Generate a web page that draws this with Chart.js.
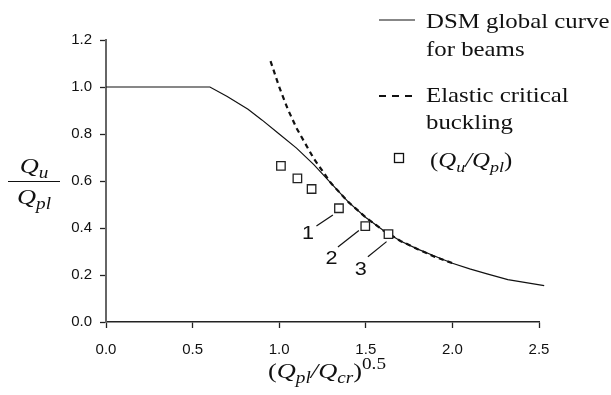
<!DOCTYPE html>
<html>
<head>
<meta charset="utf-8">
<script src="https://cdn.jsdelivr.net/npm/chart.js@4.4.1/dist/chart.umd.min.js"></script>
<style>
  body { margin: 0; background: #fff; }
  canvas { display: block; }
</style>
</head>
<body>
<canvas id="myChart" width="611" height="395"></canvas>
<script>
"use strict";

// DSM global curve for beams
const dsmX = [0, 0.60, 0.70, 0.82, 0.90, 1.00, 1.10, 1.20, 1.30, 1.40, 1.50, 1.60, 1.70, 1.80, 1.90, 2.00, 2.10, 2.20, 2.32, 2.53];
const dsmY = [1.00, 1.00, 0.96, 0.905, 0.86, 0.80, 0.74, 0.67, 0.59, 0.51, 0.445, 0.39, 0.345, 0.31, 0.28, 0.25, 0.226, 0.205, 0.18, 0.155];

// Elastic critical buckling
const elasticX = [0.95, 1.00, 1.05, 1.10, 1.20, 1.30, 1.40, 1.50, 1.60, 1.70, 1.80, 1.90, 2.02];
const elasticY = [1.11, 1.00, 0.905, 0.825, 0.695, 0.59, 0.51, 0.445, 0.39, 0.345, 0.31, 0.277, 0.245];

// test results Qu/Qpl
const testX = [1.01, 1.105, 1.187, 1.345, 1.497, 1.631];
const testY = [0.664, 0.611, 0.566, 0.484, 0.408, 0.374];

// numbered callouts: label position and leader line (data units)
const calloutText = ["1", "2", "3"];
const calloutAt = [[1.166, 0.383], [1.302, 0.278], [1.471, 0.230]];
const leaderFrom = [[1.215, 0.409], [1.339, 0.319], [1.512, 0.278]];
const leaderTo = [[1.31, 0.455], [1.46, 0.389], [1.62, 0.342]];

const xTicks = [0, 0.5, 1.0, 1.5, 2.0, 2.5];
const yTicks = [0, 0.2, 0.4, 0.6, 0.8, 1.0, 1.2];

const SERIF = "'Liberation Serif', 'Times New Roman', serif";
const SANS = "'Liberation Sans', Arial, sans-serif";
const SX = 1.2; // the figure is stretched sideways

function pts(xs, ys) {
    return xs.map((x, i) => ({ x: x, y: ys[i] }));
}

function runFont(kind, size) {
    if (kind === "i") return "italic " + size + "px " + SERIF;
    if (kind === "sub") return "italic " + Math.round(size * 0.72) + "px " + SERIF;
    if (kind === "sup") return Math.round(size * 0.72) + "px " + SERIF;
    return size + "px " + SERIF;
}

function runsWidth(ctx, runs, size) {
    let w = 0;
    runs.forEach(r => {
        ctx.font = runFont(r[1], size);
        w += ctx.measureText(r[0]).width * SX;
    });
    return w;
}

// draws a run of mixed italic / sub / sup text, left-aligned at x
function drawRuns(ctx, x, y, runs, size) {
    let cx = x;
    runs.forEach(r => {
        ctx.font = runFont(r[1], size);
        let dy = 0;
        if (r[1] === "sub") dy = size * 0.24;
        if (r[1] === "sup") dy = -size * 0.42;
        ctx.save();
        ctx.translate(cx, y + dy);
        ctx.scale(SX, 1);
        ctx.fillText(r[0], 0, 0);
        ctx.restore();
        cx += ctx.measureText(r[0]).width * SX;
    });
    return cx;
}

function stretchedText(ctx, txt, x, y, font, align) {
    ctx.font = font;
    ctx.save();
    ctx.translate(x, y);
    ctx.scale(SX, 1);
    ctx.textAlign = align || "left";
    ctx.fillText(txt, 0, 0);
    ctx.restore();
}

const decorations = {
    id: "decorations",
    afterDraw(chart) {
        const ctx = chart.ctx;
        const xs = chart.scales.x, ys = chart.scales.y;
        ctx.save();
        ctx.fillStyle = "#111";
        ctx.strokeStyle = "#111";
        ctx.textBaseline = "alphabetic";

        // callouts 1 2 3
        ctx.lineWidth = 1.2;
        calloutText.forEach((t, i) => {
            ctx.beginPath();
            ctx.moveTo(xs.getPixelForValue(leaderFrom[i][0]), ys.getPixelForValue(leaderFrom[i][1]));
            ctx.lineTo(xs.getPixelForValue(leaderTo[i][0]), ys.getPixelForValue(leaderTo[i][1]));
            ctx.stroke();
            stretchedText(ctx, t, xs.getPixelForValue(calloutAt[i][0]), ys.getPixelForValue(calloutAt[i][1]) + 7, "18px " + SANS, "center");
        });

        // y title as a fraction
        const fx = 34;
        let runs = [["Q", "i"], ["u", "sub"]];
        drawRuns(ctx, fx - runsWidth(ctx, runs, 22) / 2, 173, runs, 22);
        ctx.lineWidth = 1;
        ctx.beginPath();
        ctx.moveTo(8, 181.5);
        ctx.lineTo(60, 181.5);
        ctx.stroke();
        runs = [["Q", "i"], ["pl", "sub"]];
        drawRuns(ctx, fx - runsWidth(ctx, runs, 22) / 2, 204, runs, 22);

        // x title
        runs = [["(", "r"], ["Q", "i"], ["pl", "sub"], ["/", "i"], ["Q", "i"], ["cr", "sub"], [")", "r"], ["0.5", "sup"]];
        drawRuns(ctx, 327 - runsWidth(ctx, runs, 22) / 2, 378, runs, 22);

        // legend
        ctx.lineWidth = 1.2;
        ctx.beginPath();
        ctx.moveTo(379, 20);
        ctx.lineTo(415, 20);
        ctx.stroke();
        stretchedText(ctx, "DSM global curve", 426, 28, "20.7px " + SERIF);
        stretchedText(ctx, "for beams", 426, 56, "20.7px " + SERIF);

        ctx.lineWidth = 2.2;
        ctx.setLineDash([7, 6]);
        ctx.beginPath();
        ctx.moveTo(379, 96);
        ctx.lineTo(416, 96);
        ctx.stroke();
        ctx.setLineDash([]);
        stretchedText(ctx, "Elastic critical", 426, 102, "20.7px " + SERIF);
        stretchedText(ctx, "buckling", 426, 129, "20.7px " + SERIF);

        ctx.lineWidth = 1.3;
        ctx.fillStyle = "#fff";
        ctx.fillRect(394.5, 153.5, 9, 9);
        ctx.strokeRect(394.5, 153.5, 9, 9);
        ctx.fillStyle = "#111";
        runs = [["(", "r"], ["Q", "i"], ["u", "sub"], ["/", "i"], ["Q", "i"], ["pl", "sub"], [")", "r"]];
        drawRuns(ctx, 430, 167, runs, 20.7);

        ctx.restore();
    }
};

const ctx = document.getElementById("myChart").getContext("2d");
const myChart = new Chart(ctx, {
    type: "scatter",
    data: {
        datasets: [
            {
                label: "(Qu/Qpl)",
                data: pts(testX, testY),
                pointStyle: "rect",
                pointRadius: 6,
                borderColor: "#222",
                backgroundColor: "#fff",
                borderWidth: 1.3,
                order: 0
            },
            {
                label: "Elastic critical buckling",
                data: pts(elasticX, elasticY),
                showLine: true,
                borderColor: "#111",
                borderWidth: 2.2,
                borderDash: [5, 4],
                pointRadius: 0,
                order: 1
            },
            {
                label: "DSM global curve for beams",
                data: pts(dsmX, dsmY),
                showLine: true,
                borderColor: "#111",
                borderWidth: 1.2,
                pointRadius: 0,
                clip: false,
                order: 2
            }
        ]
    },
    options: {
        responsive: false,
        animation: false,
        devicePixelRatio: 1,
        layout: { padding: { top: 40, right: 72, left: 0, bottom: 0 } },
        plugins: {
            legend: { display: false },
            tooltip: { enabled: false }
        },
        scales: {
            x: {
                type: "linear",
                min: 0,
                max: 2.5,
                afterBuildTicks: s => { s.ticks = xTicks.map(v => ({ value: v })); },
                afterFit: s => { s.height = 73; },
                ticks: {
                    callback: v => Number(v).toFixed(1),
                    color: "#111",
                    padding: 13,
                    maxRotation: 0,
                    font: { family: SANS, size: 15 }
                },
                grid: { drawOnChartArea: false, tickLength: 6, tickColor: "#222", tickWidth: 1.3 },
                border: { color: "#222", width: 1.5 }
            },
            y: {
                type: "linear",
                min: 0,
                max: 1.2,
                afterBuildTicks: s => { s.ticks = yTicks.map(v => ({ value: v })); },
                afterFit: s => { s.width = 106; },
                ticks: {
                    callback: v => Number(v).toFixed(1),
                    color: "#111",
                    padding: 8,
                    font: { family: SANS, size: 15 }
                },
                grid: { drawOnChartArea: false, tickLength: 6, tickColor: "#222", tickWidth: 1.3 },
                border: { color: "#666", width: 2 }
            }
        }
    },
    plugins: [decorations]
});
</script>
</body>
</html>
